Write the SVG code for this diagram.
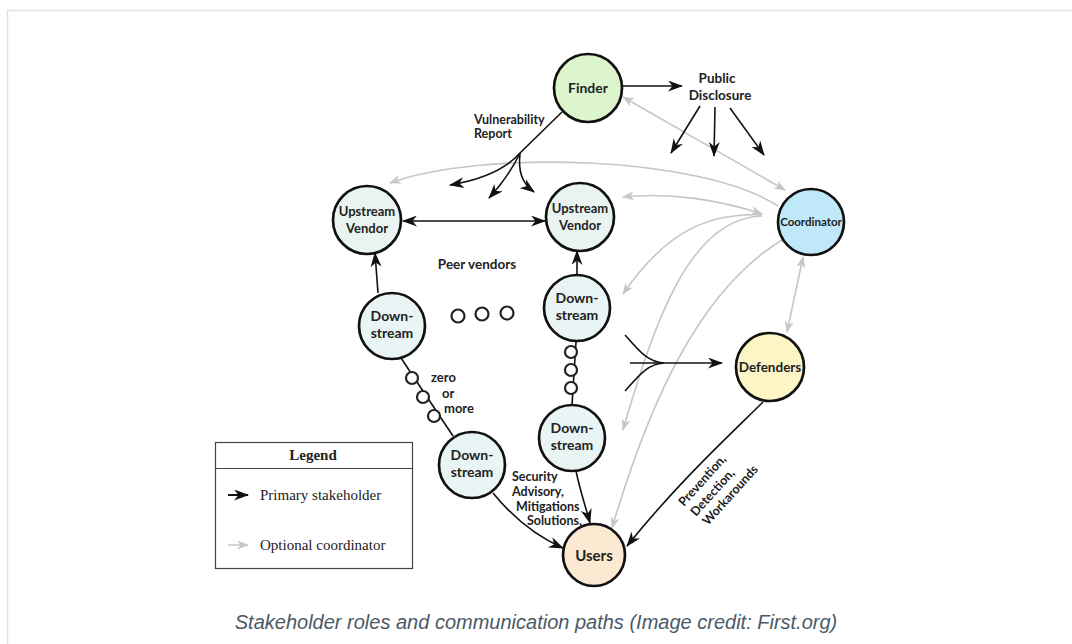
<svg xmlns="http://www.w3.org/2000/svg" width="1072" height="644" viewBox="0 0 1072 644">
<style>
.node{stroke:#111;stroke-width:2.7}
.lbl{font-family:Lato,"DejaVu Sans",sans-serif;font-weight:700;font-size:14px;fill:#222;text-anchor:middle}
.sm{font-family:Lato,"DejaVu Sans",sans-serif;font-weight:700;font-size:12.5px;fill:#222}
.blk{fill:none;stroke:#111;stroke-width:1.6}
.gry{fill:none;stroke:#c6c6c6;stroke-width:1.6}
.dot{fill:#fff;stroke:#222;stroke-width:2.2}
.leg{font-family:"Liberation Serif",serif;font-size:15px;fill:#222}
</style>
<defs>
<marker id="ab" viewBox="0 0 15 11" refX="14" refY="5.5" markerWidth="15" markerHeight="11" markerUnits="userSpaceOnUse" orient="auto-start-reverse">
<path d="M0,0 L15,5.5 L0,11 L4.5,5.5 z" fill="#111"/>
</marker>
<marker id="ag" viewBox="0 0 12 9" refX="11" refY="4.5" markerWidth="12" markerHeight="9" markerUnits="userSpaceOnUse" orient="auto-start-reverse">
<path d="M0,0 L12,4.5 L0,9 L3.5,4.5 z" fill="#c6c6c6"/>
</marker>
</defs>
<rect x="0" y="0" width="1072" height="644" fill="#fff"/>
<rect x="7.5" y="10.5" width="1100" height="700" fill="none" stroke="#e2e2e2" stroke-width="1.5"/>

<g id="connectors">
<path class="gry" d="M623,97 L785,190" marker-start="url(#ag)" marker-end="url(#ag)"/>
<path class="gry" d="M778,206 C700,155 480,150 390,183" marker-end="url(#ag)"/>
<path class="gry" d="M623,197 C670,192 720,200 762,214" marker-start="url(#ag)" marker-end="url(#ag)"/>
<path class="gry" d="M762,215 C700,212 660,240 623,294" marker-end="url(#ag)"/>
<path class="gry" d="M762,216 C690,218 655,320 623,430" marker-end="url(#ag)"/>
<path class="gry" d="M782,240 C700,290 650,400 612,528" marker-end="url(#ag)"/>
<path class="gry" d="M803,257 L787,332" marker-start="url(#ag)" marker-end="url(#ag)"/>
<path class="blk" d="M623,86 L682,86" marker-end="url(#ab)"/>
<path class="blk" d="M700,106 L671,153" marker-end="url(#ab)"/>
<path class="blk" d="M715,107 L714,156" marker-end="url(#ab)"/>
<path class="blk" d="M730,108 L764,155" marker-end="url(#ab)"/>
<path class="blk" d="M562,112 L520,153"/>
<path class="blk" d="M520,153 C505,170 480,180 450,185" marker-end="url(#ab)"/>
<path class="blk" d="M520,153 C512,170 500,186 489,198" marker-end="url(#ab)"/>
<path class="blk" d="M520,153 C518,172 522,183 534,192" marker-end="url(#ab)"/>
<path class="blk" d="M403,221 L545,221" marker-start="url(#ab)" marker-end="url(#ab)"/>
<path class="blk" d="M378,293 L375,253" marker-end="url(#ab)"/>
<path class="blk" d="M577,274 L577,251" marker-end="url(#ab)"/>
<path class="blk" d="M401,358 L453,436"/>
<path class="blk" d="M576,342 L572,405"/>
<path class="blk" d="M576,471 C580,490 585,505 590,523" marker-end="url(#ab)"/>
<path class="blk" d="M493,493 C515,520 540,538 563,548" marker-end="url(#ab)"/>
<path class="blk" d="M763,402 C735,430 680,480 627,546" marker-end="url(#ab)"/>
<path class="blk" d="M625,335 C640,352 648,362 664,363"/>
<path class="blk" d="M625,391 C640,374 648,364 664,363"/>
<path class="blk" d="M630,363 L722,363" marker-end="url(#ab)"/>
</g>

<g id="chain-dots">
<circle class="dot" cx="412" cy="378" r="6"/>
<circle class="dot" cx="423" cy="397" r="6"/>
<circle class="dot" cx="434" cy="416" r="6"/>
<circle class="dot" cx="571" cy="352" r="6"/>
<circle class="dot" cx="571" cy="370" r="6"/>
<circle class="dot" cx="571" cy="388" r="6"/>
<circle class="dot" cx="458" cy="316" r="6.5"/>
<circle class="dot" cx="482" cy="314" r="6.5"/>
<circle class="dot" cx="507" cy="313" r="6.5"/>
</g>

<g id="finder">
<circle class="node" cx="588" cy="88" r="34" fill="#ddf5cd"/>
<text class="lbl" x="588" y="93">Finder</text>
</g>
<g id="upstream-left">
<circle class="node" cx="367" cy="220" r="34" fill="#e9f4f1"/>
<text class="lbl" x="367" y="216" style="font-size:13px">Upstream</text>
<text class="lbl" x="367" y="233" style="font-size:13px">Vendor</text>
</g>
<g id="upstream-right">
<circle class="node" cx="580" cy="217" r="34" fill="#e9f4f1"/>
<text class="lbl" x="580" y="213" style="font-size:13px">Upstream</text>
<text class="lbl" x="580" y="230" style="font-size:13px">Vendor</text>
</g>
<g id="downstream-left-top">
<circle class="node" cx="392" cy="326" r="33" fill="#e9f4f4"/>
<text class="lbl" x="392" y="321">Down-</text>
<text class="lbl" x="392" y="338">stream</text>
</g>
<g id="downstream-right-top">
<circle class="node" cx="577" cy="308" r="33" fill="#e9f4f4"/>
<text class="lbl" x="577" y="303">Down-</text>
<text class="lbl" x="577" y="320">stream</text>
</g>
<g id="downstream-left-bottom">
<circle class="node" cx="472" cy="465" r="33" fill="#e9f4f4"/>
<text class="lbl" x="472" y="460">Down-</text>
<text class="lbl" x="472" y="477">stream</text>
</g>
<g id="downstream-right-bottom">
<circle class="node" cx="572" cy="438" r="33" fill="#e9f4f4"/>
<text class="lbl" x="572" y="433">Down-</text>
<text class="lbl" x="572" y="450">stream</text>
</g>
<g id="coordinator">
<circle class="node" cx="811" cy="222" r="33" fill="#bfe9f8"/>
<text class="lbl" x="811" y="226" style="font-size:11.5px">Coordinator</text>
</g>
<g id="defenders">
<circle class="node" cx="770" cy="367" r="34" fill="#fdf5c6"/>
<text class="lbl" x="770" y="372" style="font-size:13.5px">Defenders</text>
</g>
<g id="users">
<circle class="node" cx="594" cy="555" r="31" fill="#fbe9d2"/>
<text class="lbl" x="594" y="561" style="font-size:15px">Users</text>
</g>

<g id="labels">
<text class="sm" x="717" y="83" text-anchor="middle" style="font-size:13.5px">Public</text>
<text class="sm" x="720" y="100" text-anchor="middle" style="font-size:13.5px">Disclosure</text>
<text class="sm" x="474" y="124">Vulnerability</text>
<text class="sm" x="474" y="138">Report</text>
<text class="sm" x="477" y="269" text-anchor="middle" style="font-size:13.5px">Peer vendors</text>
<text class="sm" x="431" y="382" style="font-size:13px">zero</text>
<text class="sm" x="442" y="398" style="font-size:13px">or</text>
<text class="sm" x="444" y="413" style="font-size:13px">more</text>
<text class="sm" x="512" y="481">Security</text>
<text class="sm" x="512" y="496">Advisory,</text>
<text class="sm" x="516" y="511">Mitigations</text>
<text class="sm" x="527" y="525">Solutions,</text>
<text class="sm" transform="translate(684 507) rotate(-48)">Prevention,</text>
<text class="sm" transform="translate(696 517) rotate(-48)">Detection,</text>
<text class="sm" transform="translate(708 526) rotate(-48)">Workarounds</text>
</g>

<g id="legend">
<rect x="215.5" y="442.5" width="197" height="126" fill="#fff" stroke="#444" stroke-width="1.2"/>
<line x1="215.5" y1="468.5" x2="412.5" y2="468.5" stroke="#444" stroke-width="1.2"/>
<text class="leg" x="313" y="460" text-anchor="middle" font-weight="700">Legend</text>
<path d="M228,495 L248,495" stroke="#111" stroke-width="2" marker-end="url(#ab)"/>
<text class="leg" x="260" y="500">Primary stakeholder</text>
<path d="M228,545 L248,545" stroke="#c6c6c6" stroke-width="1.5" marker-end="url(#ag)"/>
<text class="leg" x="260" y="550">Optional coordinator</text>
</g>

<text x="536" y="629" text-anchor="middle" font-family="'Liberation Sans',Arial,sans-serif" font-style="italic" font-size="20" fill="#4b5966">Stakeholder roles and communication paths (Image credit: First.org)</text>
</svg>
